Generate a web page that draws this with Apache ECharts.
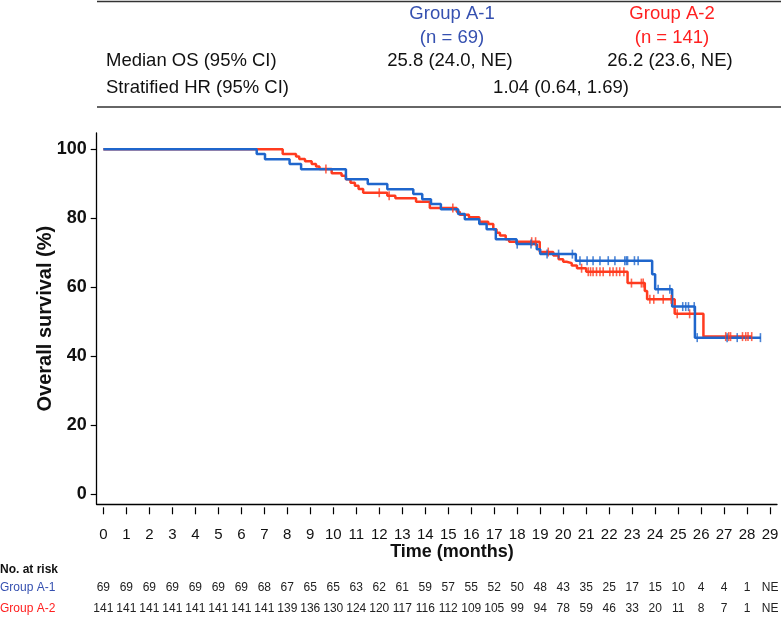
<!DOCTYPE html>
<html><head><meta charset="utf-8">
<script src="https://cdn.jsdelivr.net/npm/echarts@6/dist/echarts.min.js"></script>
<style>html,body{margin:0;padding:0;background:#fff}#c{width:781px;height:623px}</style>
</head><body><div id="c"></div>
<script>
// ---------- data ----------
const months = [0,1,2,3,4,5,6,7,8,9,10,11,12,13,14,15,16,17,18,19,20,21,22,23,24,25,26,27,28,29];
const yTicks = [0,20,40,60,80,100];

// Group A-1 KM steps (time in months, survival %)
const timeA1 = [0,6.67,7.03,8.1,8.6,10.55,11.5,12.35,13.48,13.87,14.25,14.68,15.43,15.72,16.35,16.67,17.07,17.97,18.85,19.0,20.55,23.87,24.0,24.74,25.73,28.6];
const survA1 = [100,98.6,97.1,95.7,94.2,91.3,89.9,88.4,87.0,85.5,84.1,82.6,81.2,79.7,78.3,76.8,73.9,72.5,71.0,69.6,67.7,63.8,59.4,54.4,45.4,45.4];
const censorA1 = [18.0,18.6,19.3,19.8,20.4,20.73,21.04,21.3,21.6,21.96,22.25,22.68,22.75,22.8,23.1,23.26,24.13,24.64,25.2,25.33,25.45,25.7,25.83,27.13,27.57,28.58];

// Group A-2 KM steps
const timeA2 = [0,7.8,8.38,8.52,8.77,9.06,9.25,9.4,9.93,10.36,10.55,10.75,10.94,11.1,11.3,12.35,12.7,13.6,14.2,15.37,15.5,15.9,16.35,16.74,16.96,17.1,17.25,17.5,17.65,18.98,19.57,19.8,20.0,20.15,20.37,20.6,21.0,22.8,23.55,23.65,24.85,26.1,28.2];
const survA2 = [100,98.6,97.9,97.2,96.5,95.7,95.0,94.3,93.0,92.3,91.3,90.3,89.4,88.5,87.4,86.5,85.8,84.8,83.0,81.9,81.0,80.3,79.0,78.3,76.8,75.8,75.0,73.9,73.2,70.2,69.2,68.1,67.4,67.0,66.3,65.5,64.5,61.2,58.9,56.5,52.3,45.7,45.7];
const censorA2 = [9.68,12.0,12.43,15.2,18.63,18.8,19.35,20.8,21.09,21.19,21.3,21.45,21.6,21.74,22.03,22.17,22.32,22.46,22.64,22.97,23.4,23.48,23.77,23.94,24.35,24.7,24.96,25.5,27.07,27.2,27.28,27.8,27.94,28.04,28.2];

const riskA1 = [69,69,69,69,69,69,69,68,67,65,65,63,62,61,59,57,55,52,50,48,43,35,25,17,15,10,4,4,1,'NE'];
const riskA2 = [141,141,141,141,141,141,141,141,139,136,130,124,120,117,116,112,109,105,99,94,78,59,46,33,20,11,8,7,1,'NE'];

const groupNames = ['Group A-1','Group A-2'];
const nText = ['(n = 69)','(n = 141)'];
const medianOS = ['25.8 (24.0, NE)','26.2 (23.6, NE)'];
const hrText = '1.04 (0.64, 1.69)';

// ---------- style ----------
const BLUE = '#1f66cc', RED = '#ff3b1f';
const BLUE_T = '#3550b0', RED_T = '#ff2020';
const FONT = '"Liberation Sans", Arial, sans-serif';
const TF = '18.5px ' + FONT;

function stepData(t, s){ return t.map((x,i)=>[x, s[i]]); }
function survAt(t, s, x){ let v = s[0]; for(let i=0;i<t.length;i++){ if(t[i] <= x) v = s[i]; } return v; }
function censorData(c, t, s){ return c.map(x => [x, survAt(t, s, x)]); }

const chart = echarts.init(document.getElementById('c'), null, {renderer:'canvas'});

const baseX = {type:'value', min:-0.29, max:29.3, splitLine:{show:false}, gridIndex:0};

const option = {
  animation:false,
  backgroundColor:'#fff',
  textStyle:{fontFamily:FONT},
  grid:{left:96.7, right:4, top:133, bottom:118.7, outerBoundsMode:'none', containLabel:false},
  xAxis:[
    Object.assign({}, baseX, {position:'bottom', axisLine:{show:true, onZero:false, lineStyle:{color:'#000', width:1.3}}, axisTick:{show:false}, axisLabel:{show:false}}),
    Object.assign({}, baseX, {position:'bottom', offset:3, axisLine:{show:false, onZero:false},
      axisTick:{show:true, customValues:months, length:7, lineStyle:{color:'#000', width:1.2}},
      axisLabel:{show:true, customValues:months, margin:20, fontSize:15, color:'#111', fontFamily:FONT, formatter:v=>String(Math.round(v))}}),
    Object.assign({}, baseX, {position:'bottom', offset:71, axisLine:{show:false, onZero:false}, axisTick:{show:false},
      axisLabel:{show:true, customValues:months, margin:6.5, fontSize:12, color:'#222', fontFamily:FONT, formatter:v=>String(riskA1[Math.round(v)])}}),
    Object.assign({}, baseX, {position:'bottom', offset:92, axisLine:{show:false, onZero:false}, axisTick:{show:false},
      axisLabel:{show:true, customValues:months, margin:6.5, fontSize:12, color:'#222', fontFamily:FONT, formatter:v=>String(riskA2[Math.round(v)])}})
  ],
  yAxis:[{
    type:'value', min:-2.9, max:104.7, splitLine:{show:false},
    axisLine:{show:true, onZero:false, lineStyle:{color:'#000', width:1.3}},
    axisTick:{show:true, customValues:yTicks, length:6, lineStyle:{color:'#000', width:1.2}},
    axisLabel:{show:true, customValues:yTicks, margin:10, fontSize:18, fontWeight:'bold', color:'#111', fontFamily:FONT},
    name:'Overall survival (%)', nameLocation:'middle', nameGap:41, nameMoveOverlap:false,
    nameTextStyle:{fontSize:20, fontWeight:'bold', color:'#111', fontFamily:FONT}
  }],
  series:[
    {type:'line', name:groupNames[1], data:stepData(timeA2, survA2), step:'end', showSymbol:false, symbol:'none', clip:false,
     lineStyle:{color:RED, width:2.5}, z:2},
    {type:'line', name:groupNames[0], data:stepData(timeA1, survA1), step:'end', showSymbol:false, symbol:'none', clip:false,
     lineStyle:{color:BLUE, width:2.5}, z:3},
    {type:'scatter', data:censorData(censorA2, timeA2, survA2), symbol:'rect', symbolSize:[1.6,9],
     itemStyle:{color:RED}, z:4, clip:false},
    {type:'scatter', data:censorData(censorA1, timeA1, survA1), symbol:'rect', symbolSize:[1.6,9],
     itemStyle:{color:BLUE}, z:5, clip:false}
  ],
  graphic:[
    {type:'line', shape:{x1:97, y1:1.5, x2:781, y2:1.5}, style:{stroke:'#333', lineWidth:1.5}},
    {type:'line', shape:{x1:97, y1:107, x2:781, y2:107}, style:{stroke:'#333', lineWidth:1.5}},
    {type:'text', x:452, y:14, style:{text:groupNames[0], fill:BLUE_T, font:TF, textAlign:'center', textVerticalAlign:'middle'}},
    {type:'text', x:452, y:38, style:{text:nText[0], fill:BLUE_T, font:TF, textAlign:'center', textVerticalAlign:'middle'}},
    {type:'text', x:672, y:14, style:{text:groupNames[1], fill:RED_T, font:TF, textAlign:'center', textVerticalAlign:'middle'}},
    {type:'text', x:672, y:38, style:{text:nText[1], fill:RED_T, font:TF, textAlign:'center', textVerticalAlign:'middle'}},
    {type:'text', x:106, y:61, style:{text:'Median OS (95% CI)', fill:'#111', font:TF, textAlign:'left', textVerticalAlign:'middle'}},
    {type:'text', x:450, y:61, style:{text:medianOS[0], fill:'#111', font:TF, textAlign:'center', textVerticalAlign:'middle'}},
    {type:'text', x:670, y:61, style:{text:medianOS[1], fill:'#111', font:TF, textAlign:'center', textVerticalAlign:'middle'}},
    {type:'text', x:106, y:88, style:{text:'Stratified HR (95% CI)', fill:'#111', font:TF, textAlign:'left', textVerticalAlign:'middle'}},
    {type:'text', x:561, y:88, style:{text:hrText, fill:'#111', font:TF, textAlign:'center', textVerticalAlign:'middle'}},
    {type:'text', x:452, y:552, style:{text:'Time (months)', fill:'#111', font:'bold 18px '+FONT, textAlign:'center', textVerticalAlign:'middle'}},
    {type:'text', x:0, y:570, style:{text:'No. at risk', fill:'#111', font:'bold 12px '+FONT, textAlign:'left', textVerticalAlign:'middle'}},
    {type:'text', x:0, y:588, style:{text:groupNames[0], fill:BLUE_T, font:'12px '+FONT, textAlign:'left', textVerticalAlign:'middle'}},
    {type:'text', x:0, y:609, style:{text:groupNames[1], fill:RED_T, font:'12px '+FONT, textAlign:'left', textVerticalAlign:'middle'}}
  ]
};
chart.setOption(option);
</script>
</body></html>
